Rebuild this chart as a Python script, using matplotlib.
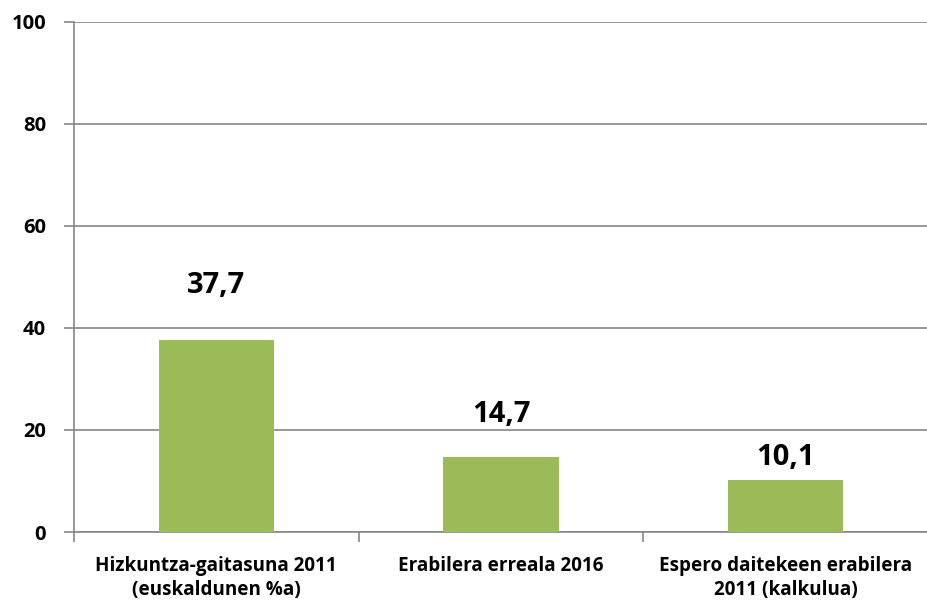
import numpy as np
import matplotlib.pyplot as plt

categories = ['Hizkuntza-gaitasuna 2011\n(euskaldunen %a)',
              'Erabilera erreala 2016',
              'Espero daitekeen erabilera\n2011 (kalkulua)']
values = [37.7, 14.7, 10.1]
value_labels = ['37,7', '14,7', '10,1']
yticks = [0, 20, 40, 60, 80, 100]

bar_color = '#9BBB59'
grid_color = '#868686'
label_offsets = [10.7, 8.4, 4.6]

plt.rcParams['font.family'] = ['Open Sans', 'DejaVu Sans']

fig = plt.figure(figsize=(9.27, 6.04), dpi=100)
ax = fig.add_axes([74 / 927, 1 - 532 / 604, 854 / 927, 510 / 604])

x = np.arange(len(categories))
ax.bar(x, values, width=0.405, color=bar_color, zorder=3)

for i, v in enumerate(values):
    ax.text(x[i], v + label_offsets[i], value_labels[i], ha='center', va='center',
            fontsize=21, fontweight='bold', color='black')

ax.set_xlim(-0.5, len(categories) - 0.5)
ax.set_ylim(0, 100)
ax.set_yticks(yticks)
ax.set_yticklabels([str(t) for t in yticks], fontsize=14.5, fontweight='bold')
ax.yaxis.grid(True, color=grid_color, linewidth=1.2, zorder=0)

ax.set_xticks(x)
ax.set_xticklabels(categories, fontsize=13.6, fontweight='bold', linespacing=1.3)
ax.tick_params(axis='x', length=0, pad=17)
ax.set_xticks(np.arange(len(categories) + 1) - 0.5, minor=True)
ax.tick_params(axis='x', which='minor', length=7, color=grid_color, width=1.2)
ax.tick_params(axis='y', length=7, color=grid_color, width=1.2, pad=13)

for side in ['top', 'right']:
    ax.spines[side].set_visible(False)
for side in ['left', 'bottom']:
    ax.spines[side].set_color(grid_color)
    ax.spines[side].set_linewidth(1.2)

fig.savefig('out.png', dpi=100)
